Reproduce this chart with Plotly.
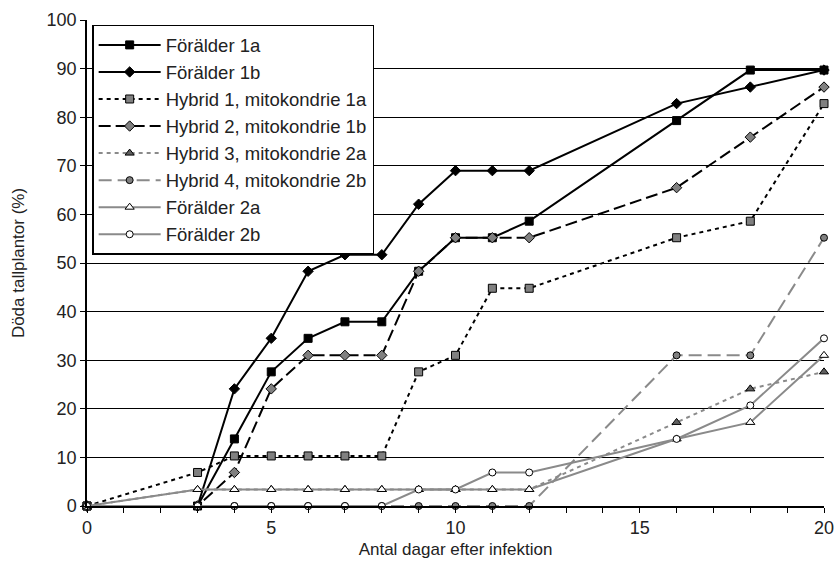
import plotly.graph_objects as go

days = [0, 3, 4, 5, 6, 7, 8, 9, 10, 11, 12, 16, 18, 20]

foralder_1a = [0, 0, 13.8, 27.6, 34.5, 37.9, 37.9, 48.3, 55.2, 55.2, 58.6, 79.3, 89.7, 89.7]
foralder_1b = [0, 0, 24.1, 34.5, 48.3, 51.7, 51.7, 62.1, 69.0, 69.0, 69.0, 82.8, 86.2, 89.7]
hybrid_1 = [0, 6.9, 10.3, 10.3, 10.3, 10.3, 10.3, 27.6, 31.0, 44.8, 44.8, 55.2, 58.6, 82.8]
hybrid_2 = [0, 0, 6.9, 24.1, 31.0, 31.0, 31.0, 48.3, 55.2, 55.2, 55.2, 65.5, 75.9, 86.2]
hybrid_3 = [0, 3.4, 3.4, 3.4, 3.4, 3.4, 3.4, 3.4, 3.4, 3.4, 3.4, 17.2, 24.1, 27.6]
hybrid_4 = [0, 0, 0, 0, 0, 0, 0, 0, 0, 0, 0, 31.0, 31.0, 55.2]
foralder_2a = [0, 3.4, 3.4, 3.4, 3.4, 3.4, 3.4, 3.4, 3.4, 3.4, 3.4, 13.8, 17.2, 31.0]
foralder_2b = [0, 0, 0, 0, 0, 0, 0, 3.4, 3.4, 6.9, 6.9, 13.8, 20.7, 34.5]

names = ["Förälder 1a", "Förälder 1b", "Hybrid 1, mitokondrie 1a", "Hybrid 2, mitokondrie 1b",
         "Hybrid 3, mitokondrie 2a", "Hybrid 4, mitokondrie 2b", "Förälder 2a", "Förälder 2b"]
series = [foralder_1a, foralder_1b, hybrid_1, hybrid_2, hybrid_3, hybrid_4, foralder_2a, foralder_2b]

GREY = "#8a8a8a"
styles = [
    dict(lc="black", dash="solid", sym="square", mc="black", ms=8),
    dict(lc="black", dash="solid", sym="diamond", mc="black", ms=8),
    dict(lc="black", dash="4px,4px", sym="square", mc="#808080", ms=8),
    dict(lc="black", dash="12px,5px", sym="diamond", mc="#808080", ms=8),
    dict(lc=GREY, dash="4px,4px", sym="triangle-up", mc="#606060", ms=8),
    dict(lc=GREY, dash="13px,6px", sym="circle", mc="#808080", ms=7),
    dict(lc=GREY, dash="solid", sym="triangle-up", mc="white", ms=8),
    dict(lc=GREY, dash="solid", sym="circle", mc="white", ms=7),
]

fig = go.Figure()
for name, vals, st in zip(names, series, styles):
    fig.add_trace(go.Scatter(
        x=days, y=vals, name=name, mode="lines+markers",
        line=dict(color=st["lc"], width=2, dash=st["dash"]),
        marker=dict(symbol=st["sym"], color=st["mc"], size=st["ms"],
                    line=dict(color="black", width=1)),
        cliponaxis=False,
    ))

font_fam = "Liberation Sans, Arial, sans-serif"
fig.update_layout(
    width=838, height=564,
    margin=dict(l=87, r=14, t=20, b=58, autoexpand=False),
    paper_bgcolor="white", plot_bgcolor="white",
    font=dict(family=font_fam, color="#222", size=17),
    showlegend=True,
    legend=dict(
        x=0.007, y=0.99, xanchor="left", yanchor="top",
        bgcolor="white", bordercolor="black", borderwidth=1.5,
        font=dict(size=18.5, color="#222"), itemwidth=62,
        tracegroupgap=0,
    ),
    xaxis=dict(
        range=[0, 20], tickvals=[0, 5, 10, 15, 20],
        showgrid=False, zeroline=False, automargin=False,
        showline=True, linecolor="black", linewidth=1.5,
        ticks="outside", ticklen=5, tickcolor="black",
        minor=dict(dtick=1, ticks="outside", ticklen=5, tickcolor="black", showgrid=False),
        tickfont=dict(size=18),
        title=dict(text="Antal dagar efter infektion", font=dict(size=17), standoff=6),
    ),
    yaxis=dict(
        range=[0, 100], tickvals=list(range(0, 101, 10)),
        showgrid=True, gridcolor="black", gridwidth=1,
        zeroline=False, automargin=False,
        showline=True, linecolor="black", linewidth=1.5,
        ticks="outside", ticklen=5, tickcolor="black",
        tickfont=dict(size=18),
        title=dict(text="Döda tallplantor (%)", font=dict(size=17), standoff=18),
    ),
)

fig.write_html("out.html", config={"displayModeBar": False},
               post_script="document.body.style.margin='0';")
